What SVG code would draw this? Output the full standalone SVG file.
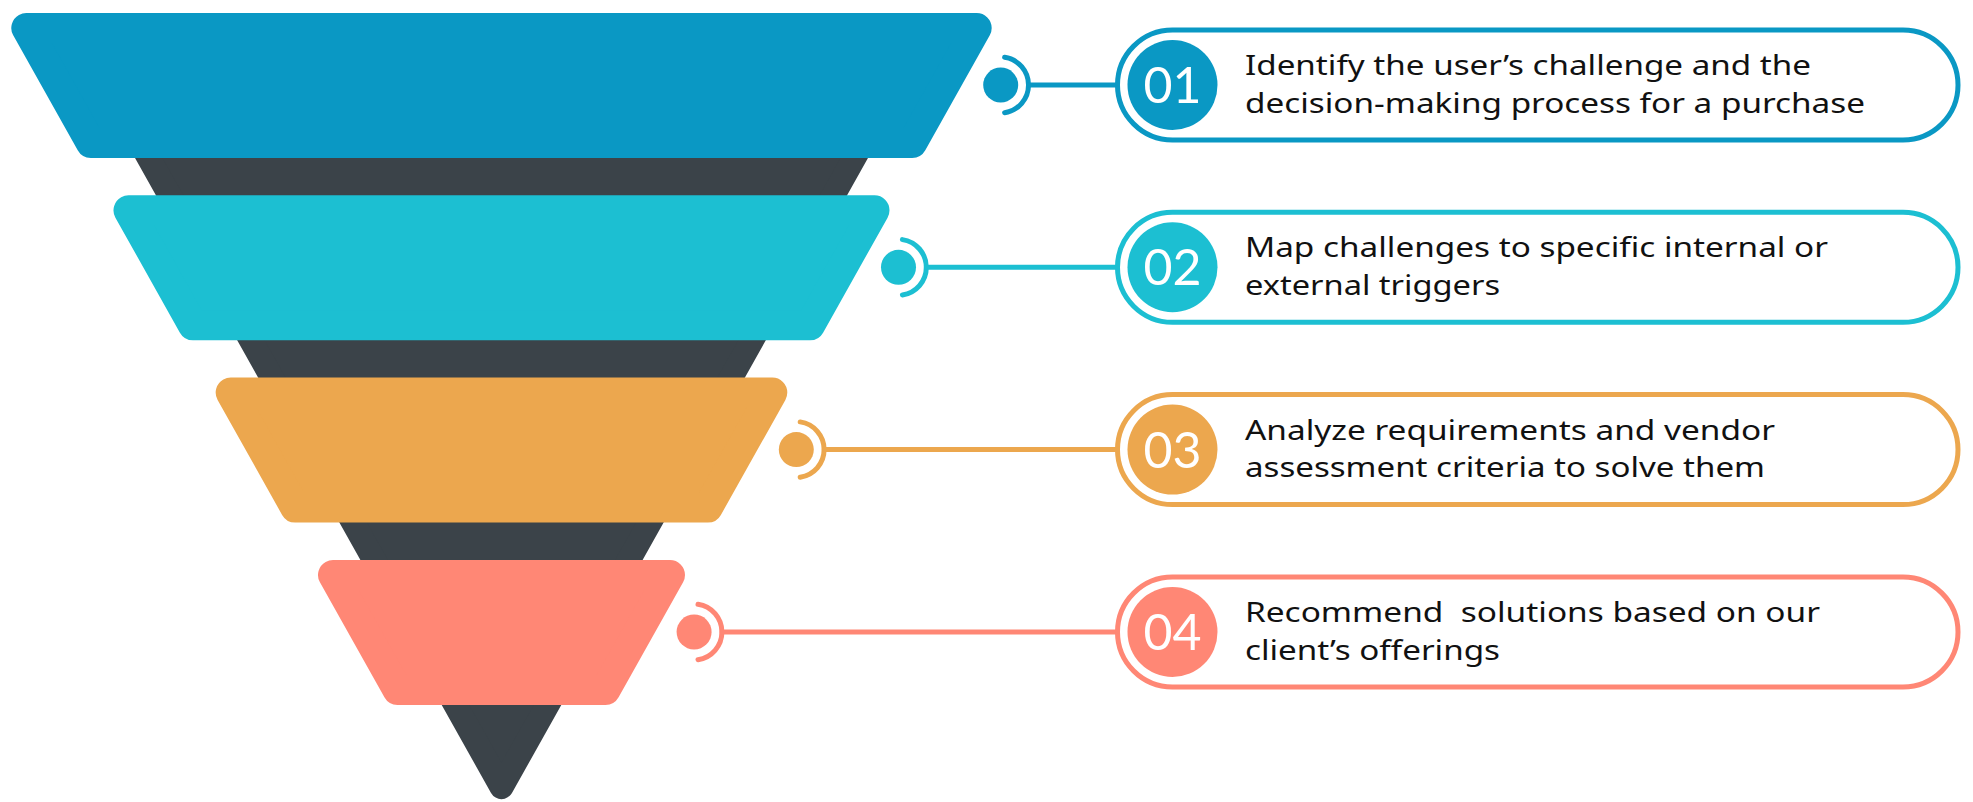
<svg xmlns="http://www.w3.org/2000/svg" width="1973" height="802" viewBox="0 0 1973 802">
  <defs>
    <style>
      .tier { stroke-width: 30; stroke-linejoin: round; }
      .c1 { fill: #0a98c4; stroke: #0a98c4; }
      .c2 { fill: #1cbfd2; stroke: #1cbfd2; }
      .c3 { fill: #eca74e; stroke: #eca74e; }
      .c4 { fill: #ff8775; stroke: #ff8775; }
      .s1 { stroke: #0a98c4; }
      .s2 { stroke: #1cbfd2; }
      .s3 { stroke: #eca74e; }
      .s4 { stroke: #ff8775; }
      .f1 { fill: #0a98c4; }
      .f2 { fill: #1cbfd2; }
      .f3 { fill: #eca74e; }
      .f4 { fill: #ff8775; }
      .pill { fill: #ffffff; stroke-width: 5; }
      .wire { fill: none; stroke-width: 5; stroke-linecap: round; }
      .num { font-family: Lato, Inter, "Liberation Sans", sans-serif; font-weight: 400; font-size: 50px; fill: #ffffff; text-anchor: middle; }
      .desc { font-family: "Noto Sans", "Open Sans", "Liberation Sans", sans-serif; font-size: 28px; fill: #111111; white-space: pre; }
    </style>
  </defs>

  <!-- dark funnel body behind the tiers -->
  <g id="funnel-core">
    <polygon points="93.8,60 909.2,60 501.5,787.1" fill="#3b4349" stroke="#3b4349" stroke-width="24" stroke-linejoin="round"/>
  </g>

  <!-- funnel tiers (inset polygons, rounded by a same-colour stroke) -->
  <g id="tier-1"><polygon class="tier c1" points="26.3,28 976.7,28 912.2,143 90.8,143"/></g>
  <g id="tier-2"><polygon class="tier c2" points="128.5,210.3 874.5,210.3 810,325.3 193,325.3"/></g>
  <g id="tier-3"><polygon class="tier c3" points="230.7,392.6 772.3,392.6 707.8,507.6 295.2,507.6"/></g>
  <g id="tier-4"><polygon class="tier c4" points="333,575 670,575 605.5,690 397.5,690"/></g>

  <!-- connectors: knob, bracket arc and leader line -->
  <g id="connectors">
    <circle class="f1" cx="1000.7" cy="85" r="17.5"/>
    <path class="wire s1" d="M1004.6 57.3 A28 28 0 0 1 1004.6 112.7"/>
    <line class="wire s1" x1="1028.7" y1="85" x2="1116" y2="85"/>

    <circle class="f2" cx="898.5" cy="267.3" r="17.5"/>
    <path class="wire s2" d="M902.4 239.6 A28 28 0 0 1 902.4 295"/>
    <line class="wire s2" x1="926.5" y1="267.3" x2="1116" y2="267.3"/>

    <circle class="f3" cx="796.3" cy="449.6" r="17.5"/>
    <path class="wire s3" d="M800.2 421.9 A28 28 0 0 1 800.2 477.3"/>
    <line class="wire s3" x1="824.3" y1="449.6" x2="1116" y2="449.6"/>

    <circle class="f4" cx="694.1" cy="632" r="17.5"/>
    <path class="wire s4" d="M698 604.3 A28 28 0 0 1 698 659.7"/>
    <line class="wire s4" x1="722.1" y1="632" x2="1116" y2="632"/>
  </g>

  <!-- step cards -->
  <g id="step-01">
    <rect class="pill s1" x="1117.5" y="30" width="840.5" height="110" rx="55"/>
    <circle class="f1" cx="1172.5" cy="85" r="45"/>
    <text class="num" x="1172.5" y="103">01</text>
    <text class="desc" x="1245" y="75" textLength="566" lengthAdjust="spacingAndGlyphs">Identify the user’s challenge and the</text>
    <text class="desc" x="1245" y="112.7" textLength="620" lengthAdjust="spacingAndGlyphs">decision-making process for a purchase</text>
  </g>

  <g id="step-02">
    <rect class="pill s2" x="1117.5" y="212.3" width="840.5" height="110" rx="55"/>
    <circle class="f2" cx="1172.5" cy="267.3" r="45"/>
    <text class="num" x="1172.5" y="285.3">02</text>
    <text class="desc" x="1245" y="257.3" textLength="583" lengthAdjust="spacingAndGlyphs">Map challenges to specific internal or</text>
    <text class="desc" x="1245" y="295" textLength="255" lengthAdjust="spacingAndGlyphs">external triggers</text>
  </g>

  <g id="step-03">
    <rect class="pill s3" x="1117.5" y="394.6" width="840.5" height="110" rx="55"/>
    <circle class="f3" cx="1172.5" cy="449.6" r="45"/>
    <text class="num" x="1172.5" y="467.6">03</text>
    <text class="desc" x="1245" y="439.6" textLength="530" lengthAdjust="spacingAndGlyphs">Analyze requirements and vendor</text>
    <text class="desc" x="1245" y="477.3" textLength="520" lengthAdjust="spacingAndGlyphs">assessment criteria to solve them</text>
  </g>

  <g id="step-04">
    <rect class="pill s4" x="1117.5" y="577" width="840.5" height="110" rx="55"/>
    <circle class="f4" cx="1172.5" cy="632" r="45"/>
    <text class="num" x="1172.5" y="650">04</text>
    <text class="desc" x="1245" y="622" textLength="575" lengthAdjust="spacingAndGlyphs">Recommend  solutions based on our</text>
    <text class="desc" x="1245" y="659.7" textLength="255" lengthAdjust="spacingAndGlyphs">client’s offerings</text>
  </g>
</svg>
